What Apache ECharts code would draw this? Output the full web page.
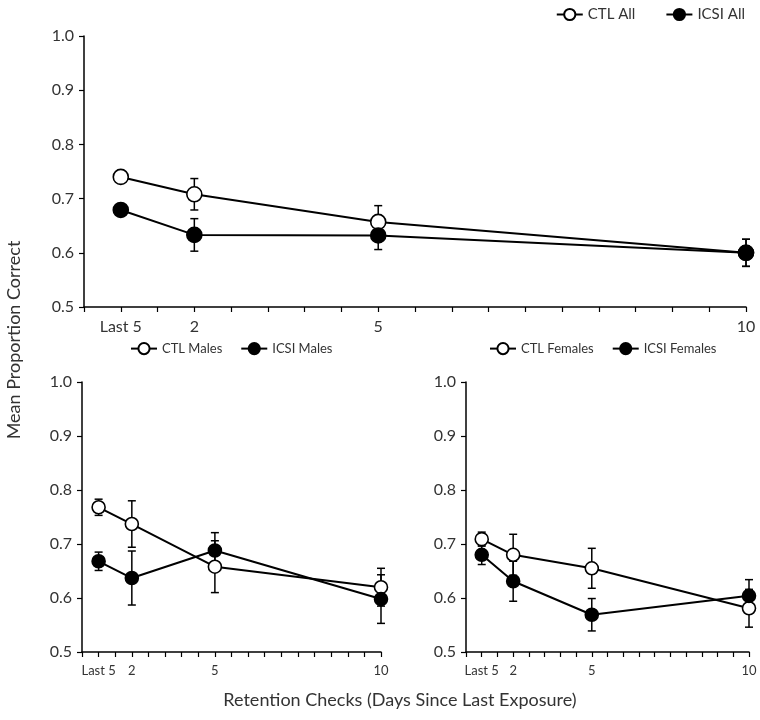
<!DOCTYPE html>
<html>
<head>
<meta charset="utf-8">
<script src="https://cdn.jsdelivr.net/npm/echarts@6/dist/echarts.min.js"></script>
<style>
  html, body { margin: 0; padding: 0; background: #fff; }
  #chart { width: 760px; height: 720px; }
</style>
</head>
<body>
<div id="chart"></div>
<script>
// x positions on the 0..18 axis and their labels
var xPos = [1, 3, 8, 18];
var xLabels = ['Last 5', '2', '5', '10'];

// All
var ctlAll = [0.740, 0.708, 0.657, 0.600];
var ctlAllErr = [0.006, 0.029, 0.030, 0.025];
var icsiAll = [0.679, 0.633, 0.632, 0.600];
var icsiAllErr = [0.010, 0.030, 0.026, 0.025];

// Males
var ctlMales = [0.768, 0.737, 0.658, 0.620];
var ctlMalesErr = [0.015, 0.043, 0.048, 0.035];
var icsiMales = [0.668, 0.637, 0.688, 0.598];
var icsiMalesErr = [0.017, 0.050, 0.033, 0.045];

// Females
var ctlFemales = [0.709, 0.680, 0.655, 0.581];
var ctlFemalesErr = [0.013, 0.038, 0.037, 0.035];
var icsiFemales = [0.680, 0.631, 0.569, 0.604];
var icsiFemalesErr = [0.018, 0.037, 0.030, 0.030];

var yTicks = [0.5, 0.6, 0.7, 0.8, 0.9, 1.0];

var font = 'Lato, "Noto Sans", sans-serif';
var textColor = '#333';

var myChart = echarts.init(document.getElementById('chart'));

function xAxisFor(idx, fontSize) {
  return {
    type: 'value',
    gridIndex: idx,
    min: 0,
    max: 18,
    interval: 1,
    axisLine: {lineStyle: {color: '#000', width: 1.5}},
    axisTick: {show: true, length: 5, lineStyle: {color: '#000', width: 1.2}},
    splitLine: {show: false},
    axisLabel: {
      color: textColor,
      fontFamily: font,
      fontSize: fontSize,
      margin: 12,
      showMinLabel: true,
      showMaxLabel: true,
      formatter: function (v) {
        var i = xPos.indexOf(v);
        return i >= 0 ? xLabels[i] : '';
      }
    }
  };
}

function yAxisFor(idx) {
  return {
    type: 'value',
    gridIndex: idx,
    min: yTicks[0],
    max: yTicks[yTicks.length - 1],
    interval: 0.1,
    axisLine: {show: true, lineStyle: {color: '#000', width: 1.5}},
    axisTick: {show: true, length: 5, lineStyle: {color: '#000', width: 1.2}},
    splitLine: {show: false},
    axisLabel: {
      color: textColor,
      fontFamily: font,
      fontSize: 16,
      margin: 10,
      formatter: function (v) { return v.toFixed(1); }
    }
  };
}

function lineSeries(name, idx, values, filled, size) {
  return {
    name: name,
    type: 'line',
    xAxisIndex: idx,
    yAxisIndex: idx,
    data: xPos.map(function (x, i) { return [x, values[i]]; }),
    symbol: 'circle',
    symbolSize: size,
    lineStyle: {color: '#000', width: 2},
    itemStyle: {color: filled ? '#000' : '#fff', borderColor: '#000', borderWidth: 1.6},
    z: 3,
    silent: true
  };
}

function errSeries(idx, values, errs) {
  return {
    type: 'custom',
    xAxisIndex: idx,
    yAxisIndex: idx,
    data: xPos.map(function (x, i) { return [x, values[i] - errs[i], values[i] + errs[i]]; }),
    encode: {x: 0, y: [1, 2]},
    renderItem: function (params, api) {
      var lo = api.coord([api.value(0), api.value(1)]);
      var hi = api.coord([api.value(0), api.value(2)]);
      var w = 4;
      var st = {stroke: '#000', lineWidth: 1.5};
      return {
        type: 'group',
        children: [
          {type: 'line', shape: {x1: lo[0], y1: lo[1], x2: hi[0], y2: hi[1]}, style: st},
          {type: 'line', shape: {x1: lo[0] - w, y1: lo[1], x2: lo[0] + w, y2: lo[1]}, style: st},
          {type: 'line', shape: {x1: hi[0] - w, y1: hi[1], x2: hi[0] + w, y2: hi[1]}, style: st}
        ]
      };
    },
    z: 2,
    silent: true
  };
}

function legendFor(names, pos, fontSize, gap) {
  return Object.assign({
    data: names,
    itemWidth: 26,
    itemHeight: 14,
    itemGap: gap,
    textStyle: {color: textColor, fontFamily: font, fontSize: fontSize},
    selectedMode: false
  }, pos);
}

var option = {
  animation: false,
  backgroundColor: '#fff',
  grid: [
    {left: 84, top: 36, width: 662, height: 271},
    {left: 82, top: 382, width: 299, height: 270},
    {left: 466, top: 382, width: 283, height: 270}
  ],
  legend: [
    legendFor(['CTL All', 'ICSI All'], {right: 10, top: 2}, 15, 30),
    legendFor(['CTL Males', 'ICSI Males'], {left: 125, top: 337}, 13, 18),
    legendFor(['CTL Females', 'ICSI Females'], {left: 484, top: 337}, 13, 18)
  ],
  xAxis: [xAxisFor(0, 16), xAxisFor(1, 13), xAxisFor(2, 13)],
  yAxis: [yAxisFor(0), yAxisFor(1), yAxisFor(2)],
  graphic: [
    {
      type: 'text',
      x: 14,
      y: 340,
      rotation: Math.PI / 2,
      style: {
        text: 'Mean Proportion Correct',
        fill: textColor,
        font: '18px ' + font,
        textAlign: 'center',
        textVerticalAlign: 'middle'
      }
    },
    {
      type: 'text',
      x: 400,
      y: 700,
      style: {
        text: 'Retention Checks (Days Since Last Exposure)',
        fill: textColor,
        font: '18px ' + font,
        textAlign: 'center',
        textVerticalAlign: 'middle'
      }
    }
  ],
  series: [
    errSeries(0, ctlAll, ctlAllErr),
    errSeries(0, icsiAll, icsiAllErr),
    errSeries(1, ctlMales, ctlMalesErr),
    errSeries(1, icsiMales, icsiMalesErr),
    errSeries(2, ctlFemales, ctlFemalesErr),
    errSeries(2, icsiFemales, icsiFemalesErr),
    lineSeries('CTL All', 0, ctlAll, false, 15),
    lineSeries('ICSI All', 0, icsiAll, true, 15),
    lineSeries('CTL Males', 1, ctlMales, false, 13),
    lineSeries('ICSI Males', 1, icsiMales, true, 13),
    lineSeries('CTL Females', 2, ctlFemales, false, 13),
    lineSeries('ICSI Females', 2, icsiFemales, true, 13)
  ]
};

myChart.setOption(option);
</script>
</body>
</html>
